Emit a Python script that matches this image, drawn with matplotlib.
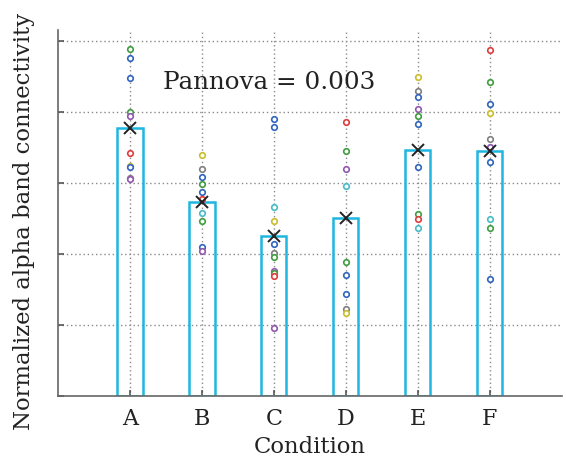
import matplotlib
matplotlib.use("Agg")
import matplotlib.pyplot as plt
import numpy as np

plt.rcParams['font.family'] = ['DejaVu Serif']

conditions = ['A', 'B', 'C', 'D', 'E', 'F']
bar_means = [3.77, 2.73, 2.25, 2.51, 3.46, 3.45]

vals_a = [4.89, 4.76, 4.48, 4.00, 3.94, 3.42, 3.24, 3.23, 3.07, 3.06]
cols_a = ['g', 'b', 'b', 'g', 'p', 'r', 'y', 'b', 'k', 'p']
vals_b = [3.39, 3.20, 3.08, 2.99, 2.87, 2.77, 2.58, 2.46, 2.10, 2.04]
cols_b = ['y', 'k', 'b', 'g', 'b', 'r', 'c', 'g', 'b', 'p']
vals_c = [3.90, 3.79, 2.66, 2.46, 2.14, 2.01, 1.96, 1.76, 1.73, 1.69, 0.96]
cols_c = ['b', 'b', 'c', 'y', 'b', 'k', 'g', 'p', 'g', 'r', 'p']
vals_d = [3.86, 3.45, 3.20, 2.96, 1.89, 1.70, 1.44, 1.23, 1.17]
cols_d = ['r', 'g', 'p', 'c', 'g', 'b', 'b', 'k', 'y']
vals_e = [4.49, 4.30, 4.21, 4.04, 3.94, 3.83, 3.23, 2.56, 2.49, 2.37]
cols_e = ['y', 'k', 'b', 'p', 'g', 'b', 'b', 'g', 'r', 'c']
vals_f = [4.87, 4.42, 4.11, 3.99, 3.62, 3.51, 3.30, 2.49, 2.37, 1.65]
cols_f = ['r', 'g', 'b', 'y', 'k', 'p', 'b', 'c', 'g', 'b']

palette = {'b': '#2f64c0', 'g': '#3e9e3e', 'r': '#e03a3a', 'y': '#c9bd2a',
           'p': '#9256b0', 'c': '#45bcc8', 'k': '#7f7f7f'}

all_vals = [vals_a, vals_b, vals_c, vals_d, vals_e, vals_f]
all_cols = [cols_a, cols_b, cols_c, cols_d, cols_e, cols_f]

fig = plt.figure(figsize=(5.66, 4.58), dpi=100)
ax = fig.add_axes([0.1025, 0.1354, 0.890, 0.799])

x = np.arange(1, len(conditions) + 1)

ax.set_xlim(0, 7)
ax.set_ylim(0, 5.155)

# dotted grid
grid_kw = dict(color='#8a8a8a', linestyle=(0, (1, 2)), linewidth=1.0, zorder=0)
for yv in [1, 2, 3, 4, 5]:
    ax.axhline(yv, **grid_kw)
for xv in x:
    ax.axvline(xv, **grid_kw)

ax.bar(x, bar_means, width=0.35, fill=False, edgecolor='#1fb6e0',
       linewidth=1.8, zorder=2)

for xi, vals, cols in zip(x, all_vals, all_cols):
    for v, c in zip(vals, cols):
        ax.plot(xi, v, marker='o', markersize=4, markerfacecolor='white',
                markeredgecolor=palette[c], markeredgewidth=1.2, zorder=3)

ax.plot(x, bar_means, linestyle='none', marker='x', markersize=9,
        markeredgewidth=1.4, color='#222222', zorder=4)

ax.text(1.46, 4.42, 'Pannova = 0.003', fontsize=17.7, ha='left', va='center',
        color='#222222')

ax.set_xticks(x)
ax.set_xticklabels(conditions, fontsize=16, color='#222222')
ax.set_yticks([0, 1, 2, 3, 4, 5])
ax.set_yticklabels([])
ax.tick_params(direction='in', length=4, color='#555555', width=1.2)
ax.tick_params(axis='x', pad=9)

ax.set_xlabel('Condition', fontsize=16.4, color='#222222', labelpad=4)
ax.set_ylabel('Normalized alpha band connectivity', fontsize=16.4,
              color='#222222', labelpad=13)
ax.yaxis.label.set_y(0.478)

for side in ['top', 'right']:
    ax.spines[side].set_visible(False)
for side in ['left', 'bottom']:
    ax.spines[side].set_color('#666666')
    ax.spines[side].set_linewidth(1.2)

fig.savefig('out.png', dpi=100)
